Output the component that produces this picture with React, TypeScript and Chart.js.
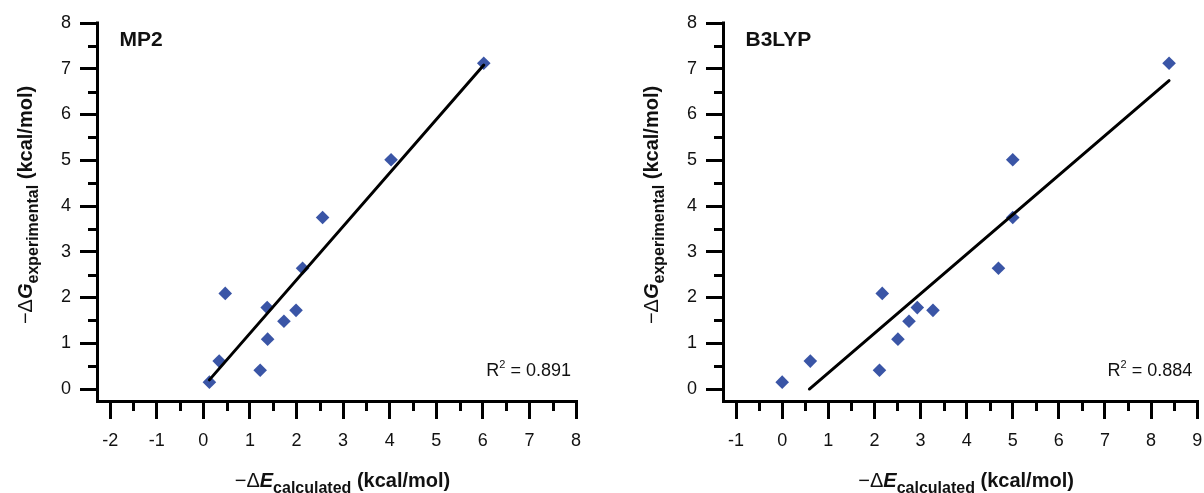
import React, { useEffect, useRef } from 'react';
import { Chart, registerables } from 'chart.js';

Chart.register(...registerables);

// ---- data ----
const dGexperimental = [0.15, 0.61, 2.09, 0.41, 1.09, 1.48, 1.78, 1.72, 2.64, 3.75, 5.01, 7.12];
const dEmp2 = [0.13, 0.34, 0.47, 1.22, 1.38, 1.73, 1.37, 1.99, 2.13, 2.56, 4.03, 6.02];
const dEb3lyp = [0.0, 0.61, 2.17, 2.11, 2.51, 2.75, 2.93, 3.27, 4.69, 5.0, 5.0, 8.39];

const fitMp2X = [0.13, 6.02];
const fitMp2Y = [0.2, 7.08];
const fitB3lypX = [0.59, 8.39];
const fitB3lypY = [0.0, 6.74];

const xTicksMp2 = [-2, -1, 0, 1, 2, 3, 4, 5, 6, 7, 8];
const xMinorMp2 = [-1.5, -0.5, 0.5, 1.5, 2.5, 3.5, 4.5, 5.5, 6.5, 7.5];
const xTicksB3lyp = [-1, 0, 1, 2, 3, 4, 5, 6, 7, 8, 9];
const xMinorB3lyp = [-0.5, 0.5, 1.5, 2.5, 3.5, 4.5, 5.5, 6.5, 7.5, 8.5];
const yTicks = [0, 1, 2, 3, 4, 5, 6, 7, 8];
const yMinor = [0.5, 1.5, 2.5, 3.5, 4.5, 5.5, 6.5, 7.5];

const panelTitles = ['MP2', 'B3LYP'];
const r2Values = ['0.891', '0.884'];

const FONT = '"Liberation Sans", Arial, sans-serif';
const MARKER = '#3A55A6';

type Seg = { t: string; font: string; dy?: number };

function drawRich(ctx: CanvasRenderingContext2D, segs: Seg[], x: number, y: number, align: 'left' | 'center' | 'right') {
  let w = 0;
  for (const s of segs) {
    ctx.font = s.font;
    w += ctx.measureText(s.t).width;
  }
  let cx = align === 'center' ? x - w / 2 : align === 'right' ? x - w : x;
  ctx.textAlign = 'left';
  ctx.textBaseline = 'alphabetic';
  for (const s of segs) {
    ctx.font = s.font;
    ctx.fillText(s.t, cx, y + (s.dy || 0));
    cx += ctx.measureText(s.t).width;
  }
}

type PanelProps = {
  left: number;
  title: string;
  r2: string;
  xs: number[];
  fitX: number[];
  fitY: number[];
  xTicks: number[];
  xMinor: number[];
  xMin: number;
  xMax: number;
  yWidth: number;
  padRight: number;
};

function Panel(p: PanelProps) {
  const ref = useRef<HTMLCanvasElement | null>(null);

  useEffect(() => {
    const canvas = ref.current;
    if (!canvas) return;

    const deco = {
      id: 'deco',
      afterDraw(chart: any) {
        const { ctx, chartArea: ca, scales } = chart;
        const xs = scales.x;
        const ys = scales.y;
        ctx.save();
        ctx.strokeStyle = '#000';
        ctx.lineWidth = 3;
        ctx.lineCap = 'butt';
        // axis lines
        ctx.beginPath();
        ctx.moveTo(ca.left - 1.5, ca.top - 1.5);
        ctx.lineTo(ca.left - 1.5, ca.bottom + 3);
        ctx.moveTo(ca.left - 3, ca.bottom + 1.5);
        ctx.lineTo(ca.right + 1.5, ca.bottom + 1.5);
        ctx.stroke();
        // minor ticks
        ctx.beginPath();
        for (const v of p.xMinor) {
          const px = Math.round(xs.getPixelForValue(v)) + 0.5;
          ctx.moveTo(px, ca.bottom);
          ctx.lineTo(px, ca.bottom + 11);
        }
        for (const v of yMinor) {
          const py = Math.round(ys.getPixelForValue(v)) + 0.5;
          ctx.moveTo(ca.left, py);
          ctx.lineTo(ca.left - 11, py);
        }
        ctx.stroke();

        ctx.fillStyle = '#111';
        // panel title
        drawRich(ctx, [{ t: p.title, font: `bold 21px ${FONT}` }], ca.left + 20.5, 46, 'left');
        // R^2
        drawRich(
          ctx,
          [
            { t: 'R', font: `18px ${FONT}` },
            { t: '2', font: `11px ${FONT}`, dy: -8 },
            { t: ' = ' + p.r2, font: `18px ${FONT}` },
          ],
          ca.right - 5,
          ca.bottom - 24,
          'right'
        );
        // x axis title
        drawRich(
          ctx,
          [
            { t: '\u2212\u0394', font: `20px ${FONT}` },
            { t: 'E', font: `italic bold 20px ${FONT}` },
            { t: 'calculated', font: `bold 16px ${FONT}`, dy: 6 },
            { t: ' (kcal/mol)', font: `bold 20px ${FONT}` },
          ],
          (ca.left + ca.right) / 2 + 5,
          ca.bottom + 86.5,
          'center'
        );
        // y axis title
        ctx.save();
        ctx.translate(ca.left - 67.5, (ca.top + ca.bottom) / 2 - 6.5);
        ctx.rotate(-Math.PI / 2);
        drawRich(
          ctx,
          [
            { t: '\u2212\u0394', font: `20px ${FONT}` },
            { t: 'G', font: `italic bold 20px ${FONT}` },
            { t: 'experimental', font: `bold 16px ${FONT}`, dy: 6 },
            { t: ' (kcal/mol)', font: `bold 20px ${FONT}` },
          ],
          0,
          0,
          'center'
        );
        ctx.restore();
        ctx.restore();
      },
    };

    const points = p.xs.map((x, i) => ({ x, y: dGexperimental[i] }));
    const fit = p.fitX.map((x, i) => ({ x, y: p.fitY[i] }));

    const chart = new Chart(canvas, {
      type: 'scatter',
      data: {
        datasets: [
          {
            type: 'line',
            data: fit,
            borderColor: '#000',
            borderWidth: 3,
            borderCapStyle: 'round',
            pointRadius: 0,
            fill: false,
            order: 0,
          } as any,
          {
            type: 'scatter',
            data: points,
            pointStyle: 'rectRot',
            pointRadius: 6.8,
            pointHoverRadius: 6.8,
            backgroundColor: MARKER,
            borderWidth: 0,
            order: 1,
          } as any,
        ],
      },
      options: {
        responsive: false,
        maintainAspectRatio: false,
        devicePixelRatio: 1,
        animation: false,
        events: [],
        layout: { padding: { left: 0, right: p.padRight, top: 23, bottom: 0 } },
        plugins: { legend: { display: false }, tooltip: { enabled: false }, title: { display: false } },
        scales: {
          x: {
            type: 'linear',
            min: p.xMin,
            max: p.xMax,
            afterBuildTicks: (s: any) => {
              s.ticks = p.xTicks.map((v) => ({ value: v }));
            },
            afterFit: (s: any) => {
              s.height = 93;
              s.paddingLeft = 0;
              s.paddingRight = 0;
            },
            grid: {
              display: true,
              drawOnChartArea: false,
              drawTicks: true,
              tickLength: 19,
              tickWidth: 3,
              tickColor: '#000',
              lineWidth: 3,
            },
            border: { display: false },
            ticks: {
              color: '#111',
              font: { family: FONT, size: 18 },
              padding: 11,
              maxRotation: 0,
              autoSkip: false,
              callback: (v: any) => String(v),
            },
          },
          y: {
            type: 'linear',
            min: -0.24,
            max: 8,
            afterBuildTicks: (s: any) => {
              s.ticks = yTicks.map((v) => ({ value: v }));
            },
            afterFit: (s: any) => {
              s.width = p.yWidth;
              s.paddingTop = 0;
              s.paddingBottom = 0;
            },
            grid: {
              display: true,
              drawOnChartArea: false,
              drawTicks: true,
              tickLength: 19,
              tickWidth: 3,
              tickColor: '#000',
              lineWidth: 3,
            },
            border: { display: false },
            ticks: {
              color: '#111',
              font: { family: FONT, size: 18 },
              padding: 9,
              autoSkip: false,
              callback: (v: any) => String(v),
            },
          },
        },
      },
      plugins: [deco],
    });

    return () => chart.destroy();
  }, []);

  return (
    <canvas
      ref={ref}
      width={602}
      height={493}
      style={{ position: 'absolute', left: p.left, top: 0, width: 602, height: 493 }}
    />
  );
}

export default function App() {
  return (
    <div style={{ position: 'absolute', left: 0, top: 0, width: 1204, height: 493, background: '#fff', overflow: 'hidden' }}>
      <Panel
        left={0}
        title={panelTitles[0]}
        r2={r2Values[0]}
        xs={dEmp2}
        fitX={fitMp2X}
        fitY={fitMp2Y}
        xTicks={xTicksMp2}
        xMinor={xMinorMp2}
        xMin={-2.24}
        xMax={8}
        yWidth={99}
        padRight={26}
      />
      <Panel
        left={602}
        title={panelTitles[1]}
        r2={r2Values[1]}
        xs={dEb3lyp}
        fitX={fitB3lypX}
        fitY={fitB3lypY}
        xTicks={xTicksB3lyp}
        xMinor={xMinorB3lyp}
        xMin={-1.24}
        xMax={9}
        yWidth={123}
        padRight={2.3}
      />
    </div>
  );
}
